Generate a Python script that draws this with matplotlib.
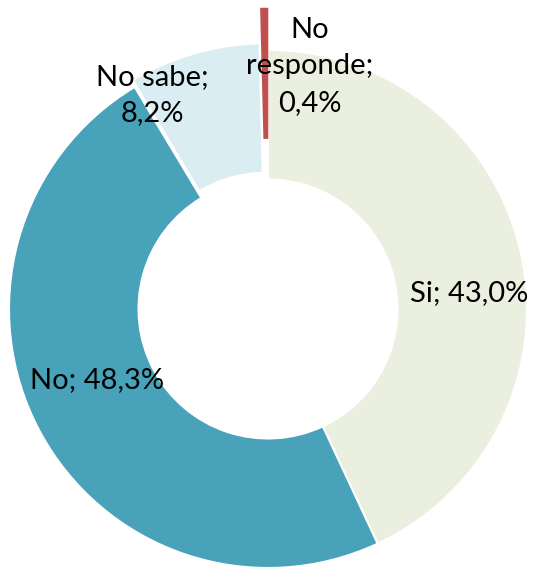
import matplotlib.pyplot as plt

labels = ["Si", "No", "No sabe", "No responde"]
values = [43.0, 48.3, 8.2, 0.4]
colors = ["#EBEFDF", "#48A2B9", "#DAEDF3", "#C0504D"]
explode = [0.0, 0.0, 0.027, 0.16]

# label text and where it sits (in pie units, radius = 1)
label_text = ["Si; 43,0%", "No; 48,3%", "No sabe;\n8,2%", "No\nresponde;\n0,4%"]
label_pos = [(0.775, 0.06), (-0.66, -0.275), (-0.448, 0.826), (0.162, 0.938)]

plt.rcParams['font.family'] = ['Lato', 'DejaVu Sans']

fig = plt.figure(figsize=(5.33, 5.68), dpi=100)
ax = fig.add_axes([0, 0, 1, 1])

wedges, _ = ax.pie(values, colors=colors, startangle=90, counterclock=False,
                   radius=1.0, explode=explode,
                   wedgeprops=dict(width=0.5, edgecolor="white", linewidth=1.5))
wedges[3].set_edgecolor(colors[3])
wedges[3].set_linewidth(1.2)

for txt, (x, y) in zip(label_text, label_pos):
    ax.text(x, y, txt, ha="center", va="center", fontsize=21,
            color="black", linespacing=1.5)

ax.set_xlim(-268 / 259, (533 - 268) / 259)
ax.set_ylim(-(568 - 309) / 259, 309 / 259)
ax.set_aspect("equal")
ax.axis("off")

fig.savefig("out.png", dpi=100)
